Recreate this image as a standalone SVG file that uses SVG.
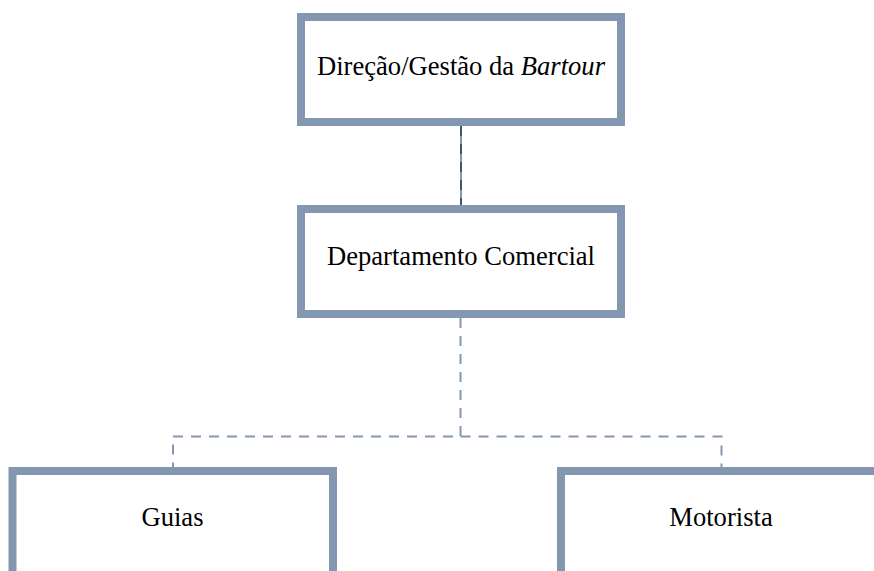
<svg xmlns="http://www.w3.org/2000/svg" width="874" height="571" viewBox="0 0 874 571">
<style>
.box{fill:#fff;stroke:#8497b0;stroke-width:8}
.lbl{font-family:'Liberation Serif','Times New Roman',serif;font-size:26.6px;fill:#000;text-anchor:middle}
.dash{fill:none;stroke:#8497b0;stroke-width:2;stroke-dasharray:10 8}
</style>
<rect width="874" height="571" fill="#fff"/>
<g id="connectors">
<line x1="461" y1="126" x2="461" y2="205" stroke="#8497b0" stroke-width="2"/>
<line x1="461" y1="126" x2="461" y2="205" stroke="#44546a" stroke-width="2" stroke-dasharray="10 8"/>
<path class="dash" d="M460.5 318 V436.5 H173 V467"/>
<path class="dash" d="M460.5 436.5 H721.5 V467"/>
</g>
<g id="node-direcao">
<rect class="box" x="301" y="17" width="320" height="105"/>
<text class="lbl" x="461" y="75">Direção/Gestão da <tspan font-style="italic">Bartour</tspan></text>
</g>
<g id="node-comercial">
<rect class="box" x="301" y="209" width="320" height="105"/>
<text class="lbl" x="461" y="265">Departamento Comercial</text>
</g>
<g id="node-guias">
<rect class="box" x="12.5" y="471" width="320.5" height="110"/>
<text class="lbl" x="172.5" y="526">Guias</text>
</g>
<g id="node-motorista">
<rect class="box" x="561" y="471" width="320" height="110"/>
<text class="lbl" x="721" y="526">Motorista</text>
</g>
</svg>
